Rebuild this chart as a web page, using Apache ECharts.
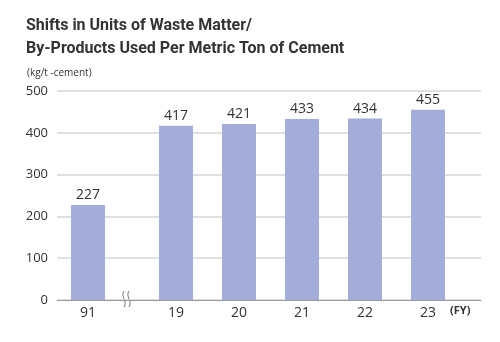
<!DOCTYPE html>
<html><head><meta charset="utf-8">
<script src="https://cdn.jsdelivr.net/npm/echarts@6/dist/echarts.min.js"></script>
<style>html,body{margin:0;padding:0;background:#fff}#c{width:500px;height:342px}</style>
</head><body><div id="c"></div>
<script>
const titleLines = ['Shifts in Units of Waste Matter/', 'By-Products Used Per Metric Ton of Cement'];
const unitLabel = '(kg/t -cement)';
const fyLabel = '(FY)';
const earlyCategories = ['91'];
const earlyValues = [227];
const recentCategories = ['19', '20', '21', '22', '23'];
const recentValues = [417, 421, 433, 434, 455];
const yTicks = [0, 100, 200, 300, 400, 500];

const chart = echarts.init(document.getElementById('c'));
const txt = '#333';
const yMin = yTicks[0], yMax = yTicks[yTicks.length - 1], yStep = yTicks[1] - yTicks[0];
const barColor = '#a4acd9';
const labelStyle = { show: true, position: 'top', distance: 3, color: txt, fontSize: 14, fontFamily: 'Open Sans' };
const xCat = (gi, data) => ({
  type: 'category', gridIndex: gi, data: data,
  axisLine: { show: false }, axisTick: { show: false },
  axisLabel: { color: txt, fontSize: 14, margin: 6, fontFamily: 'Open Sans' }
});
const yHidden = gi => ({ type: 'value', gridIndex: gi, min: yMin, max: yMax, interval: yStep, show: false });

chart.setOption({
  animation: false,
  title: {
    text: titleLines.join('\n'), left: 21, top: 9,
    textStyle: { fontSize: 16, fontWeight: 'bold', color: '#333', lineHeight: 23, fontFamily: 'Roboto' }
  },
  grid: [
    { left: 57, right: 19, top: 91, bottom: 42 },
    { left: 57, width: 62, top: 91, bottom: 42 },
    { left: 144.5, width: 315, top: 91, bottom: 42 }
  ],
  xAxis: [
    { type: 'category', gridIndex: 0, data: [''], axisLine: { show: true, lineStyle: { color: '#999', width: 1 } },
      axisTick: { show: false }, axisLabel: { show: false } },
    xCat(1, earlyCategories),
    xCat(2, recentCategories)
  ],
  yAxis: [
    { type: 'value', gridIndex: 0, min: yMin, max: yMax, interval: yStep,
      axisLine: { show: false }, axisTick: { show: false },
      axisLabel: { color: txt, fontSize: 13, margin: 9, fontFamily: 'Open Sans' },
      splitLine: { show: true, lineStyle: { color: '#d6d6d6', width: 1.5 } } },
    yHidden(1), yHidden(2)
  ],
  series: [
    { type: 'bar', xAxisIndex: 1, yAxisIndex: 1, data: earlyValues, barWidth: 34,
      itemStyle: { color: barColor }, label: labelStyle },
    { type: 'bar', xAxisIndex: 2, yAxisIndex: 2, data: recentValues, barWidth: 34,
      itemStyle: { color: barColor }, label: labelStyle }
  ],
  graphic: [
    { type: 'text', left: 27, top: 68, style: { text: unitLabel, fontSize: 10, fill: txt, fontFamily: 'Open Sans' } },
    { type: 'text', left: 450, top: 305, style: { text: fyLabel, fontSize: 11, fontWeight: 'bold', fill: txt, fontFamily: 'Open Sans' } },
    { type: 'rect', shape: { x: 124, y: 296, width: 5, height: 8 }, style: { fill: '#fff' } },
    { type: 'bezierCurve', shape: { x1: 124, y1: 291, cpx1: 120, cpy1: 297, cpx2: 128, cpy2: 301, x2: 124, y2: 307 },
      style: { stroke: '#666', lineWidth: 0.9, fill: null } },
    { type: 'bezierCurve', shape: { x1: 129, y1: 291, cpx1: 125, cpy1: 297, cpx2: 133, cpy2: 301, x2: 129, y2: 307 },
      style: { stroke: '#666', lineWidth: 0.9, fill: null } }
  ]
});
</script></body></html>
